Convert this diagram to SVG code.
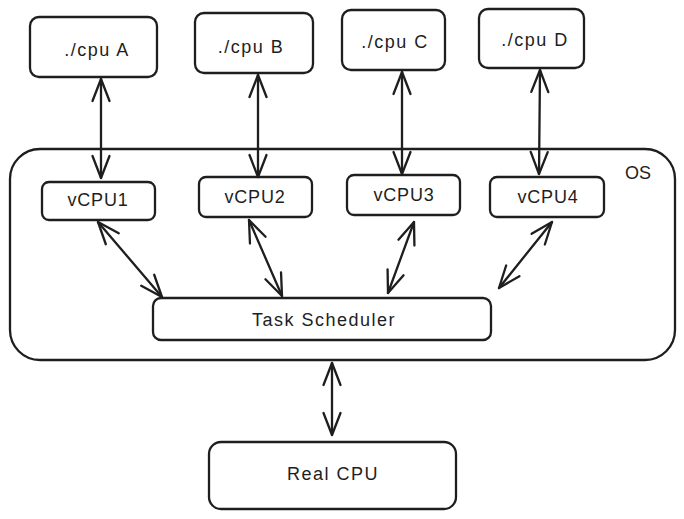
<svg xmlns="http://www.w3.org/2000/svg" width="684" height="519" viewBox="0 0 684 519">
<style>
.box{fill:#ffffff;stroke:#1e1e1e;stroke-width:2.3;}
.os{fill:none;stroke:#1e1e1e;stroke-width:2.3;}
.lbl{font-family:"Liberation Sans",Arial,sans-serif;font-size:18px;fill:#1e1e1e;text-anchor:middle;dominant-baseline:central;}
.wide{letter-spacing:1.5px;}
.mid{letter-spacing:0.8px;}
.conn{fill:none;stroke:#1e1e1e;stroke-width:2.3;stroke-linecap:round;marker-start:url(#ah);marker-end:url(#ah);}
</style>
<defs>
<marker id="ah" markerUnits="userSpaceOnUse" viewBox="0 0 24 20" refX="23" refY="10" markerWidth="24" markerHeight="20" orient="auto-start-reverse" overflow="visible">
<path d="M1,1.5 L23,10 L1,18.5" fill="none" stroke="#1e1e1e" stroke-width="2.3" stroke-linecap="round" stroke-linejoin="round"/>
</marker>
</defs>
<g id="os">
<rect class="os" x="10" y="149" width="665" height="211" rx="30"/>
<text class="lbl" x="638" y="173">OS</text>
</g>
<g id="cpuA"><rect class="box" x="30" y="17" width="127" height="60" rx="9"/><text class="lbl wide" x="97" y="50">./cpu A</text></g>
<g id="cpuB"><rect class="box" x="195" y="13" width="118" height="60" rx="9"/><text class="lbl wide" x="251" y="47">./cpu B</text></g>
<g id="cpuC"><rect class="box" x="342" y="10" width="103" height="60" rx="9"/><text class="lbl wide" x="395" y="42">./cpu C</text></g>
<g id="cpuD"><rect class="box" x="479" y="9" width="105" height="59" rx="9"/><text class="lbl wide" x="535" y="40">./cpu D</text></g>
<g id="vcpu1"><rect class="box" x="42" y="182" width="113" height="38" rx="7"/><text class="lbl mid" x="98" y="200">vCPU1</text></g>
<g id="vcpu2"><rect class="box" x="199" y="177" width="113" height="40" rx="7"/><text class="lbl mid" x="255" y="197">vCPU2</text></g>
<g id="vcpu3"><rect class="box" x="347" y="175" width="113" height="40" rx="7"/><text class="lbl mid" x="404" y="195">vCPU3</text></g>
<g id="vcpu4"><rect class="box" x="490" y="177" width="114" height="40" rx="7"/><text class="lbl mid" x="548" y="197">vCPU4</text></g>
<g id="scheduler"><rect class="box" x="153" y="298" width="338" height="42" rx="8"/><text class="lbl wide" x="324" y="320">Task Scheduler</text></g>
<g id="realcpu"><rect class="box" x="209" y="442" width="247" height="67" rx="12"/><text class="lbl wide" x="333" y="474">Real CPU</text></g>
<g id="connectors">
<line class="conn" x1="101" y1="79" x2="101" y2="178"/>
<line class="conn" x1="258" y1="75" x2="258" y2="177"/>
<line class="conn" x1="402" y1="72" x2="402" y2="174"/>
<line class="conn" x1="540" y1="70" x2="539" y2="174"/>
<line class="conn" x1="98" y1="222" x2="162" y2="297"/>
<line class="conn" x1="249" y1="220" x2="282" y2="296"/>
<line class="conn" x1="414" y1="222" x2="388" y2="293"/>
<line class="conn" x1="552" y1="222" x2="499" y2="288"/>
<line class="conn" x1="332" y1="363" x2="332" y2="435"/>
</g>
</svg>
